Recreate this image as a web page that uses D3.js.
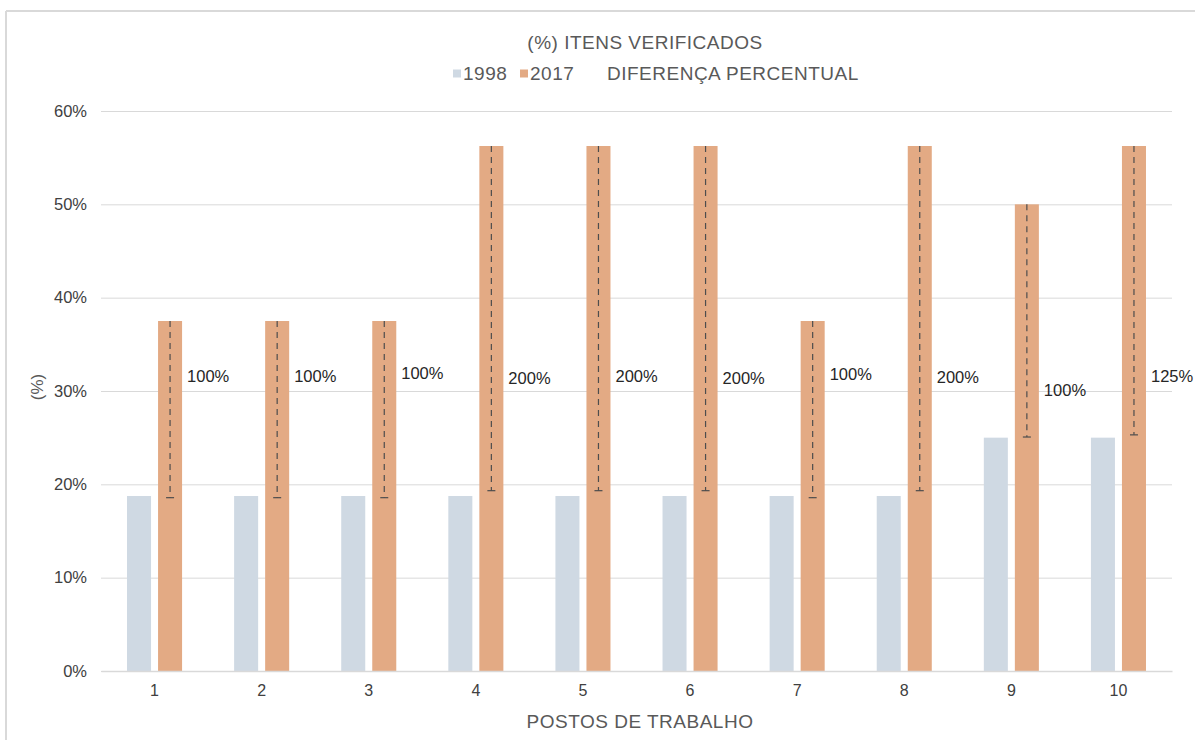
<!DOCTYPE html>
<html>
<head>
<meta charset="utf-8">
<script src="https://cdn.jsdelivr.net/npm/d3@7"></script>
<style>
  html, body { margin: 0; padding: 0; background: #fff; }
  svg text { font-family: "Liberation Sans", Arial, sans-serif; }
</style>
</head>
<body>
<svg id="chart" width="1195" height="740"></svg>
<script>
// ---- data ----
const categories = ["1", "2", "3", "4", "5", "6", "7", "8", "9", "10"];
const seriesNames = ["1998", "2017"];
const values1998 = [0.1875, 0.1875, 0.1875, 0.1875, 0.1875, 0.1875, 0.1875, 0.1875, 0.25, 0.25];
const values2017 = [0.375, 0.375, 0.375, 0.5625, 0.5625, 0.5625, 0.375, 0.5625, 0.50, 0.5625];
const errLow = [0.1857, 0.1857, 0.1857, 0.1932, 0.1932, 0.1932, 0.1857, 0.1932, 0.2507, 0.2530];
const diffLabels = ["100%", "100%", "100%", "200%", "200%", "200%", "100%", "200%", "100%", "125%"];
const diffLabelY = [0.314, 0.314, 0.318, 0.312, 0.314, 0.312, 0.316, 0.313, 0.299, 0.314];
const yTicks = [0, 0.1, 0.2, 0.3, 0.4, 0.5, 0.6];
const titleText = "(%) ITENS VERIFICADOS";
const legendExtra = "DIFERENÇA PERCENTUAL";
const xTitle = "POSTOS DE TRABALHO";
const yTitle = "(%)";

const colors = { "1998": "#cfd9e3", "2017": "#e3aa84" };

const svg = d3.select("#chart");
const plot = { left: 101, right: 1172, top: 111, bottom: 671 };

// frame (partial border as in the reference)
svg.append("line").attr("x1", 6).attr("x2", 6).attr("y1", 11).attr("y2", 740)
  .attr("stroke", "#d9d9d9").attr("stroke-width", 2);
svg.append("line").attr("x1", 6).attr("x2", 1195).attr("y1", 11).attr("y2", 11)
  .attr("stroke", "#d9d9d9").attr("stroke-width", 2);

const x0 = d3.scaleBand().domain(categories).range([plot.left, plot.right])
  .paddingInner(0.486).paddingOuter(0.243);
const x1 = d3.scaleBand().domain(seriesNames).range([0, x0.bandwidth()])
  .paddingInner(7 / 31).paddingOuter(0);
const y = d3.scaleLinear().domain([0, 0.6]).range([plot.bottom, plot.top]);

// gridlines
const yAxis = d3.axisLeft(y).tickValues(yTicks).tickFormat(d3.format(".0%"))
  .tickSize(-(plot.right - plot.left)).tickPadding(14);
const gy = svg.append("g").attr("transform", `translate(${plot.left},0)`).call(yAxis);
gy.select(".domain").remove();
gy.selectAll(".tick line").attr("stroke", "#d9d9d9").attr("stroke-width", 1);
gy.selectAll(".tick text").attr("fill", "#404040").style("font-size", "16.5px")
  .attr("dx", "0");

// bars
const rows = categories.map((c, i) => ({ c, i, v: { "1998": values1998[i], "2017": values2017[i] } }));
const groups = svg.append("g").selectAll("g").data(rows).join("g")
  .attr("transform", d => `translate(${x0(d.c)},0)`);
groups.selectAll("rect").data(d => seriesNames.map(s => ({ s, v: d.v[s] }))).join("rect")
  .attr("x", d => x1(d.s))
  .attr("width", x1.bandwidth())
  .attr("y", d => y(d.v))
  .attr("height", d => y(0) - y(d.v))
  .attr("fill", d => colors[d.s]);

// x axis
const xAxis = d3.axisBottom(x0).tickSize(0).tickPadding(14);
const gx = svg.append("g").attr("transform", `translate(0,${plot.bottom})`).call(xAxis);
gx.select(".domain").attr("stroke", "#d9d9d9").attr("stroke-width", 1.5);
gx.selectAll(".tick text").attr("fill", "#404040").style("font-size", "16px");

// difference error bars
const eb = svg.append("g");
rows.forEach(d => {
  const cx = x0(d.c) + x1("2017") + x1.bandwidth() / 2;
  eb.append("line").attr("x1", cx).attr("x2", cx)
    .attr("y1", y(values2017[d.i])).attr("y2", y(errLow[d.i]))
    .attr("stroke", "#4d4d4d").attr("stroke-width", 1.2).attr("stroke-dasharray", "6,5");
  eb.append("line").attr("x1", cx - 4).attr("x2", cx + 4)
    .attr("y1", y(errLow[d.i])).attr("y2", y(errLow[d.i]))
    .attr("stroke", "#4d4d4d").attr("stroke-width", 1.2);
  eb.append("text").attr("x", cx + 17).attr("y", y(diffLabelY[d.i]))
    .attr("dominant-baseline", "middle")
    .attr("fill", "#262626").style("font-size", "16.5px").text(diffLabels[d.i]);
});

const bigFont = "19px";
const bigSpacing = "0.5px";

// title
svg.append("text").attr("x", 645).attr("y", 49).attr("text-anchor", "middle")
  .attr("fill", "#595959").style("font-size", bigFont).style("letter-spacing", bigSpacing)
  .text(titleText);

// legend
const lg = svg.append("g");
const legendItems = [
  { name: "1998", x: 453 },
  { name: "2017", x: 520 }
];
legendItems.forEach(it => {
  lg.append("rect").attr("x", it.x).attr("y", 69.5).attr("width", 8).attr("height", 8)
    .attr("fill", colors[it.name]);
  lg.append("text").attr("x", it.x + 10).attr("y", 80).attr("fill", "#595959")
    .style("font-size", bigFont).style("letter-spacing", bigSpacing).text(it.name);
});
lg.append("text").attr("x", 607).attr("y", 80).attr("fill", "#595959")
  .style("font-size", bigFont).style("letter-spacing", bigSpacing).text(legendExtra);

// axis titles
svg.append("text").attr("x", 640).attr("y", 728).attr("text-anchor", "middle")
  .attr("fill", "#595959").style("font-size", bigFont).style("letter-spacing", bigSpacing)
  .text(xTitle);
svg.append("text").attr("transform", "translate(43,387) rotate(-90)")
  .attr("text-anchor", "middle").attr("fill", "#595959")
  .style("font-size", "17px").text(yTitle);
</script>
</body>
</html>
